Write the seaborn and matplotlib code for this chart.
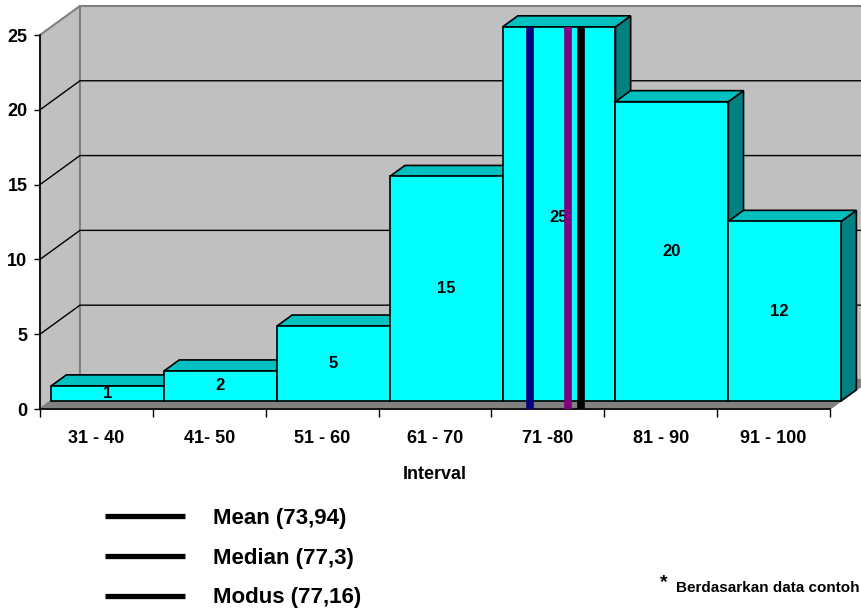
import numpy as np
import pandas as pd
import matplotlib
matplotlib.use('Agg')
import matplotlib.pyplot as plt
from matplotlib.patches import Polygon
from matplotlib.lines import Line2D
import seaborn as sns

# data
intervals = ['31 - 40', '41- 50', '51 - 60', '61 - 70', '71 -80', '81 - 90', '91 - 100']
counts = [1, 2, 5, 15, 25, 20, 12]
stat_labels = ['Mean (73,94)', 'Median (77,3)', 'Modus (77,16)']
stat_pos = [73.94, 77.3, 78.4]   # where the lines sit in the picture
stat_colors = ['#000080', '#800080', '#000000']
class_low = 70.5                 # lower bound of the '71 -80' class
class_idx = 4
y_ticks = [0, 5, 10, 15, 20, 25]

sns.set_style('white', {'text.color': 'black', 'axes.labelcolor': 'black',
                        'xtick.color': 'black', 'ytick.color': 'black'})
plt.rcParams['font.family'] = ['Liberation Sans', 'DejaVu Sans']

fig = plt.figure(figsize=(8.61, 6.11), dpi=100)
ax = fig.add_axes([40 / 861, 202 / 611, 790 / 861, 374 / 611])
ax.patch.set_visible(False)

df = pd.DataFrame({'interval': intervals, 'count': counts})
sns.barplot(data=df, x='interval', y='count', ax=ax, color='#00FFFF',
            saturation=1, width=1, edgecolor='black', linewidth=1.2)
ax.set_xlim(-0.5, 6.5)
ax.set_ylim(0, 25)

# 3d depth of the plot box and of the bars (fractions of the depth)
dx, dy = 0.354, 1.94
f1, f2 = 0.28, 0.66
ox, oy = f1 * dx, f1 * dy
ddx, ddy = (f2 - f1) * dx, (f2 - f1) * dy

x0, x1 = ax.get_xlim()
ytop = y_ticks[-1]

# walls and floor
back = Polygon([(x0 + dx, dy), (x1 + dx, dy), (x1 + dx, ytop + dy), (x0 + dx, ytop + dy)],
               closed=True, fc='#C0C0C0', ec='#808080', lw=1.5, zorder=0.2, clip_on=False)
side = Polygon([(x0, 0), (x0, ytop), (x0 + dx, ytop + dy), (x0 + dx, dy)],
               closed=True, fc='#C0C0C0', ec='#808080', lw=1.5, zorder=0.3, clip_on=False)
floor = Polygon([(x0, 0), (x1, 0), (x1 + dx, dy), (x0 + dx, dy)],
                closed=True, fc='#808080', ec='#808080', lw=1, zorder=0.5, clip_on=False)
for p in (back, side, floor):
    ax.add_patch(p)
for v in y_ticks[1:-1]:
    ax.plot([x0, x0 + dx, x1 + dx], [v, v + dy, v + dy], color='black', lw=1,
            zorder=0.4, clip_on=False)

# shift bar fronts into the box and add top / side faces
bars = ax.containers[0]
for i, p in enumerate(bars.patches):
    p.set_x(p.get_x() + ox)
    p.set_y(oy)
    p.set_clip_on(False)
    z = 3 + i * 0.1
    p.set_zorder(z + 0.05)
    bx, bw, h = p.get_x(), p.get_width(), p.get_height()
    top = oy + h
    side_face = Polygon([(bx + bw, oy), (bx + bw + ddx, oy + ddy), (bx + bw + ddx, top + ddy), (bx + bw, top)],
                        closed=True, fc='#008080', ec='black', lw=1.2, zorder=z, clip_on=False)
    top_face = Polygon([(bx, top), (bx + bw, top), (bx + bw + ddx, top + ddy), (bx + ddx, top + ddy)],
                       closed=True, fc='#00C0C0', ec='black', lw=1.2, zorder=z + 0.01, clip_on=False)
    ax.add_patch(side_face)
    ax.add_patch(top_face)

ax.bar_label(bars, label_type='center', fontsize=12, fontweight='bold', color='black', zorder=12)

# mean / median / modus lines
for pos, c in zip(stat_pos, stat_colors):
    xp = class_idx - 0.5 + (pos - class_low) / 10
    ax.plot([xp, xp], [0, counts[class_idx] + oy], color=c, lw=5.5,
            solid_capstyle='butt', zorder=15, clip_on=False)

# axes styling
for s in ('top', 'right'):
    ax.spines[s].set_visible(False)
for s in ('left', 'bottom'):
    ax.spines[s].set_color('black')
    ax.spines[s].set_linewidth(1.2)
ax.set_xticks(np.arange(-0.5, 7, 1))
ax.set_xticklabels([])
ax.set_xticks(range(len(intervals)), minor=True)
ax.set_xticklabels(intervals, minor=True, fontsize=13, fontweight='bold')
ax.tick_params(axis='x', which='major', length=6, width=1, direction='out', bottom=True, color='black')
ax.tick_params(axis='x', which='minor', length=0, pad=15, labelcolor='black')
ax.set_yticks(y_ticks)
ax.set_yticklabels([str(v) for v in y_ticks], fontsize=13, fontweight='bold')
ax.tick_params(axis='y', length=4, width=1, direction='out', pad=5, left=True,
               color='black', labelcolor='black')
ax.set_ylabel('')
ax.set_xlabel('Interval', fontsize=13, fontweight='bold', color='black')
ax.xaxis.set_label_coords(0.5, -0.152)

# legend
handles = [Line2D([], [], color='black', lw=3.8, solid_capstyle='butt') for _ in stat_labels]
leg = fig.legend(handles, stat_labels, loc='upper left', bbox_to_anchor=(105 / 861, 1 - 508 / 611),
                 frameon=False, prop=dict(weight='bold', size=16), handlelength=3.6,
                 handletextpad=1.25, labelspacing=0.84, borderpad=0, borderaxespad=0)
for t in leg.get_texts():
    t.set_color('black')

fig.text(660 / 861, 1 - 583 / 611, '*', fontsize=14, fontweight='bold', va='center', color='black')
fig.text(676 / 861, 1 - 588 / 611, 'Berdasarkan data contoh', fontsize=11,
         fontweight='bold', va='center', color='black')

fig.savefig('out.png', dpi=100)
